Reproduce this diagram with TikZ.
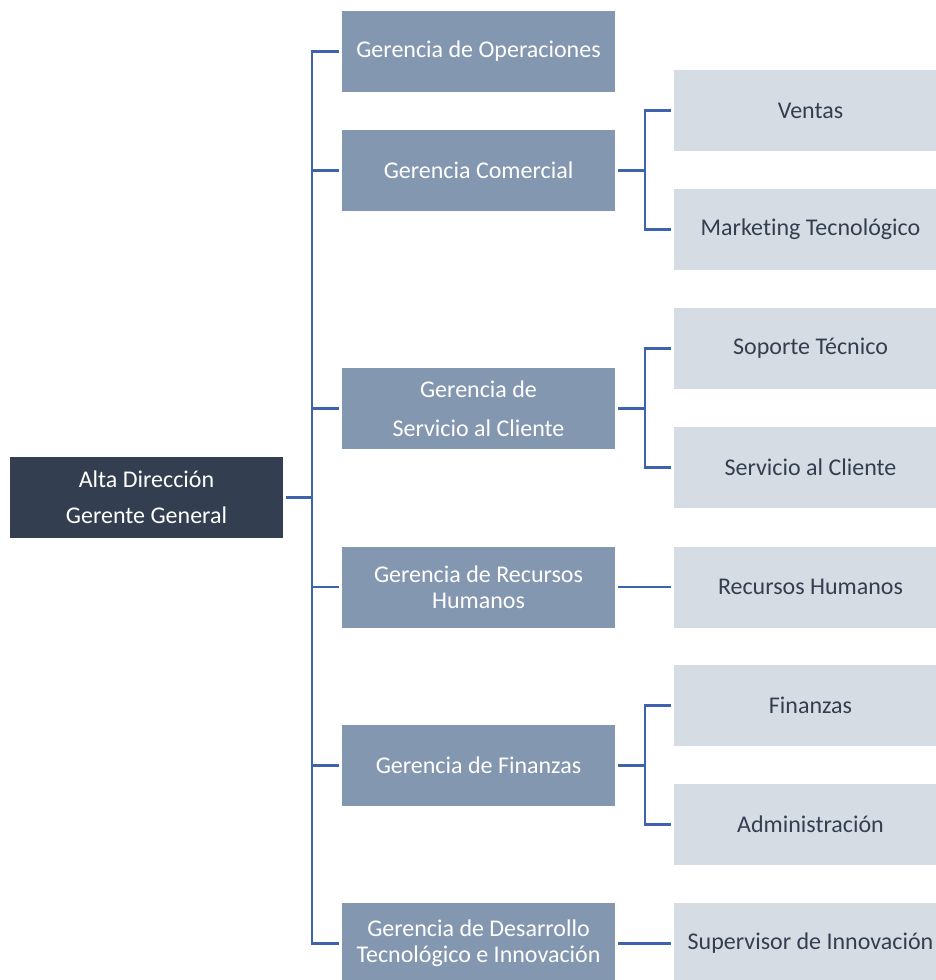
\documentclass[tikz,border=0pt]{standalone}
\usepackage{fontspec}
\setmainfont{Carlito}[Ligatures={NoCommon}]
\definecolor{rootc}{HTML}{333F50}
\definecolor{midc}{HTML}{8497B0}
\definecolor{leafc}{HTML}{D6DCE4}
\definecolor{linec}{HTML}{3F62AE}
\definecolor{leaftext}{HTML}{333F50}
\begin{document}
\begin{tikzpicture}[x=1pt,y=-1pt,
  box/.style={minimum width=273pt,minimum height=81pt,inner sep=0pt,outer sep=3pt,align=center,font=\fontsize{24}{26}\selectfont},
  rootbox/.style={box,fill=rootc,text=white,font=\fontsize{24}{36}\selectfont},
  midbox/.style={box,fill=midc,text=white},
  leafbox/.style={box,fill=leafc,text=leaftext},
  conn/.style={draw=linec,line width=2.3pt}]
\path[use as bounding box] (0,0) rectangle (936,980);
\clip (0,0) rectangle (936,980);
\coordinate (T) at (312,0);
\coordinate (S) at (645,0);
\node[rootbox] (root) at (146.5,497.5) {Alta Dirección\\Gerente General};
\node[midbox] (op) at (478.5,51.5) {Gerencia de Operaciones};
\node[midbox] (com) at (478.5,170.5) {Gerencia Comercial};
\node[midbox,font=\fontsize{24}{39}\selectfont] (ser) at (478.5,408.5) {Gerencia de\\Servicio al Cliente};
\node[midbox] (rh) at (478.5,587) {Gerencia de Recursos\\Humanos};
\node[midbox] (fin) at (478.5,765.5) {Gerencia de Finanzas};
\node[midbox] (dev) at (478.5,943.5) {Gerencia de Desarrollo\\Tecnológico e Innovación};
\node[leafbox] (ven) at (810.5,110.5) {Ventas};
\node[leafbox] (mkt) at (810.5,229.5) {Marketing Tecnológico};
\node[leafbox] (sop) at (810.5,348.5) {Soporte Técnico};
\node[leafbox] (scl) at (810.5,467.5) {Servicio al Cliente};
\node[leafbox] (lrh) at (810.5,587) {Recursos Humanos};
\node[leafbox] (lfi) at (810.5,705.5) {Finanzas};
\node[leafbox] (adm) at (810.5,824.5) {Administración};
\node[leafbox] (sup) at (810.5,943.5) {Supervisor de Innovación};
% main trunk
\draw[conn] (root.east) -- (root.east -| T);
\draw[conn] (op.west) -- (op.west -| T) -- (T |- dev.west) -- (dev.west);
\foreach \n in {com,ser,rh,fin} \draw[conn] (\n.west) -- (\n.west -| T);
% sub branches
\draw[conn] (com.east) -- (com.east -| S);
\draw[conn] (ven.west) -- (ven.west -| S) -- (S |- mkt.west) -- (mkt.west);
\draw[conn] (ser.east) -- (ser.east -| S);
\draw[conn] (sop.west) -- (sop.west -| S) -- (S |- scl.west) -- (scl.west);
\draw[conn] (rh.east) -- (lrh.west);
\draw[conn] (fin.east) -- (fin.east -| S);
\draw[conn] (lfi.west) -- (lfi.west -| S) -- (S |- adm.west) -- (adm.west);
\draw[conn] (dev.east) -- (sup.west);
\end{tikzpicture}
\end{document}
